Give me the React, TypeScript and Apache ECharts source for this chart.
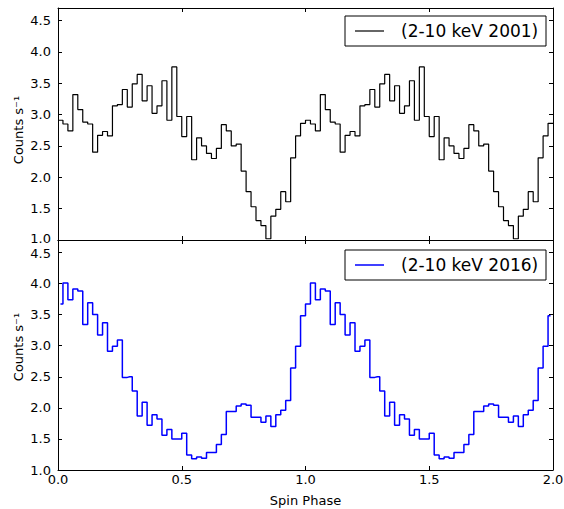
import { useEffect, useRef } from "react";
import * as echarts from "echarts";

// Folded light curves: 50 phase bins per cycle, plotted over two cycles.
const CYCLES = 2;

// 2-10 keV count rate per phase bin, 2001 observation (counts/s)
const rate2001 = [
  2.91, 2.85, 2.74, 3.32, 3.08, 2.88, 2.85, 2.40, 2.67, 2.73,
  2.66, 3.14, 3.16, 3.40, 3.12, 3.49, 3.64, 3.22, 3.46, 3.02,
  3.14, 3.54, 2.91, 3.76, 2.97, 2.65, 2.97, 2.28, 2.63, 2.50,
  2.38, 2.30, 2.46, 2.84, 2.74, 2.50, 2.53, 2.10, 1.77, 1.53,
  1.31, 1.23, 1.02, 1.38, 1.49, 1.77, 1.61, 2.31, 2.66, 2.86,
];

// 2-10 keV count rate per phase bin, 2016 observation (counts/s)
const rate2016 = [
  3.67, 4.01, 3.74, 3.91, 3.88, 3.34, 3.69, 3.50, 3.17, 3.37,
  2.91, 2.99, 3.09, 2.49, 2.50, 2.27, 1.87, 2.09, 1.72, 1.89,
  1.82, 1.56, 1.65, 1.50, 1.50, 1.59, 1.24, 1.18, 1.21, 1.19,
  1.28, 1.28, 1.41, 1.57, 1.94, 1.94, 2.03, 2.06, 2.04, 1.85,
  1.85, 1.77, 1.87, 1.70, 1.89, 1.96, 2.12, 2.64, 2.99, 3.48,
];

const LABEL_2001 = "(2-10 keV 2001)";
const LABEL_2016 = "(2-10 keV 2016)";
const PHASE_MIN = 0;
const PHASE_MAX = 2;
const PHASE_STEP = 0.5;
const RATE_MIN = 1.0;
const RATE_MAX = 4.7;
const RATE_STEP = 0.5;
const RATE_TOP_LABEL = 4.5;

const FONT = "DejaVu Sans";

// Bin-centre points repeated over the plotted cycles (steps drawn at bin edges).
function foldedPoints(rates: number[], extendToEdges: boolean): number[][] {
  const n = rates.length;
  const pts: number[][] = [];
  for (let c = 0; c < CYCLES; c++) {
    for (let i = 0; i < n; i++) pts.push([c + (i + 0.5) / n, rates[i]]);
  }
  if (extendToEdges) {
    pts.unshift([PHASE_MIN, rates[0]]);
    pts.push([PHASE_MAX, rates[n - 1]]);
  }
  return pts;
}

function xAxisFor(gridIndex: number, position: "top" | "bottom", labels: boolean) {
  return {
    type: "value",
    gridIndex,
    position,
    min: PHASE_MIN,
    max: PHASE_MAX,
    interval: PHASE_STEP,
    axisLine: { show: true, onZero: false, lineStyle: { color: "#000", width: 1 } },
    axisTick: { show: true, inside: true, length: 4, lineStyle: { color: "#000", width: 1 } },
    axisLabel: {
      show: labels,
      formatter: (v: number) => v.toFixed(1),
      fontFamily: FONT,
      fontSize: 13,
      color: "#000",
      margin: 3,
    },
    splitLine: { show: false },
    ...(labels
      ? {
          name: "Spin Phase",
          nameLocation: "middle",
          nameGap: 24,
          nameTextStyle: { fontFamily: FONT, fontSize: 13, color: "#000" },
        }
      : {}),
  };
}

// Upper panel's lowest label sits just above the lower panel's highest one.
function yAxisFor(gridIndex: number, position: "left" | "right", labels: boolean, upper: boolean) {
  const onStep = (v: number) => Math.abs(v / RATE_STEP - Math.round(v / RATE_STEP)) < 1e-6;
  return {
    type: "value",
    gridIndex,
    position,
    min: RATE_MIN,
    max: RATE_MAX,
    interval: RATE_STEP,
    axisLine: { show: true, onZero: false, lineStyle: { color: "#000", width: 1 } },
    axisTick: { show: true, inside: true, length: 4, lineStyle: { color: "#000", width: 1 } },
    axisLabel: {
      show: labels,
      showMaxLabel: false,
      formatter: (v: number) => {
        if (!onStep(v)) return "";
        const s = v.toFixed(1);
        if (upper && Math.abs(v - RATE_MIN) < 1e-6) return `{lo|${s}}`;
        if (!upper && Math.abs(v - RATE_TOP_LABEL) < 1e-6) return `{hi|${s}}`;
        return s;
      },
      fontFamily: FONT,
      fontSize: 13,
      lineHeight: 12,
      color: "#000",
      margin: 7,
      rich: {
        lo: { fontFamily: FONT, fontSize: 13, color: "#000", lineHeight: 12, padding: [0, 0, 3, 0] },
        hi: { fontFamily: FONT, fontSize: 13, color: "#000", lineHeight: 12, padding: [3, 0, 0, 0] },
      },
    },
    splitLine: { show: false },
  };
}

function legendBox(top: number, label: string, color: string, width: number) {
  const left = 345;
  const w = 201;
  const h = 30;
  const cy = top + h / 2;
  return [
    {
      type: "rect",
      shape: { x: left, y: top, width: w, height: h },
      style: { fill: "#fff", stroke: "#000", lineWidth: 1 },
      z: 100,
    },
    {
      type: "line",
      shape: { x1: left + 10, y1: cy, x2: left + 39, y2: cy },
      style: { stroke: color, lineWidth: width },
      z: 101,
    },
    {
      type: "text",
      x: left + 56,
      y: cy,
      style: {
        text: label,
        font: `17px "${FONT}"`,
        fill: "#000",
        verticalAlign: "middle",
        align: "left",
      },
      z: 101,
    },
  ];
}

function yTitle(cy: number) {
  return {
    type: "text",
    x: 18,
    y: cy,
    rotation: Math.PI / 2,
    style: {
      text: "Counts s\u207B\u00B9",
      font: `13px "${FONT}"`,
      fill: "#000",
      align: "center",
      verticalAlign: "middle",
    },
  };
}

export default function App() {
  const ref = useRef<HTMLDivElement | null>(null);

  useEffect(() => {
    if (!ref.current) return;
    const chart = echarts.init(ref.current, undefined, { renderer: "svg" });
    chart.setOption({
      animation: false,
      backgroundColor: "#fff",
      grid: [
        { left: 58, right: 11, top: 8, height: 232, outerBoundsMode: "none" },
        { left: 58, right: 11, top: 240, height: 230, outerBoundsMode: "none" },
      ],
      xAxis: [
        xAxisFor(0, "bottom", false),
        xAxisFor(0, "top", false),
        xAxisFor(1, "bottom", true),
        xAxisFor(1, "top", false),
      ],
      yAxis: [
        yAxisFor(0, "left", true, true),
        yAxisFor(0, "right", false, true),
        yAxisFor(1, "left", true, false),
        yAxisFor(1, "right", false, false),
      ],
      series: [
        {
          type: "line",
          name: LABEL_2001,
          xAxisIndex: 0,
          yAxisIndex: 0,
          step: "middle",
          showSymbol: false,
          symbol: "none",
          silent: true,
          lineStyle: { color: "#000", width: 1.2 },
          data: foldedPoints(rate2001, true),
        },
        {
          type: "line",
          name: LABEL_2016,
          xAxisIndex: 2,
          yAxisIndex: 2,
          step: "middle",
          showSymbol: false,
          symbol: "none",
          silent: true,
          lineStyle: { color: "#0000ff", width: 1.5 },
          data: foldedPoints(rate2016, false),
        },
      ],
      graphic: [
        ...legendBox(16, LABEL_2001, "#000", 1.2),
        ...legendBox(250, LABEL_2016, "#0000ff", 1.5),
        yTitle(130),
        yTitle(347),
      ],
    });
    return () => chart.dispose();
  }, []);

  return (
    <div
      ref={ref}
      style={{ position: "absolute", left: 0, top: 0, width: 564, height: 509 }}
    />
  );
}
